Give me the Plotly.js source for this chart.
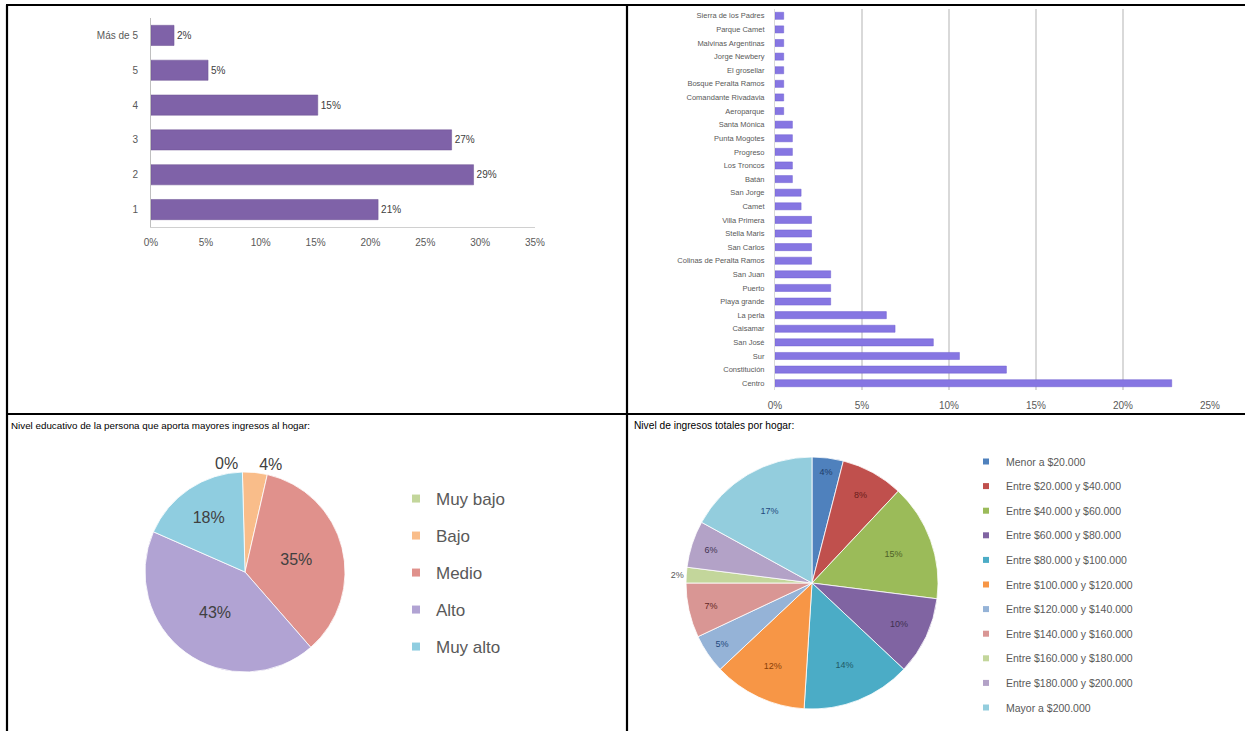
<!DOCTYPE html>
<html><head><meta charset="utf-8">
<script src="https://cdn.plot.ly/plotly-3.0.1.min.js"></script>
<style>html,body{margin:0;padding:0;background:#fff;}#chart{width:1245px;height:731px;}</style>
</head><body><div id="chart"></div>
<script>
// ---- Panel 1: members per household ----
const sizeCategories = ['1', '2', '3', '4', '5', 'Más de 5'];
const sizeValues = [20.7, 29.4, 27.4, 15.2, 5.2, 2.1];
const sizeLabels = ['21%', '29%', '27%', '15%', '5%', '2%'];

// ---- Panel 2: neighbourhood ----
const barrios = ['Centro', 'Constitución', 'Sur', 'San José', 'Caisamar', 'La perla', 'Playa grande', 'Puerto', 'San Juan',
  'Colinas de Peralta Ramos', 'San Carlos', 'Stella Maris', 'Villa Primera', 'Camet', 'San Jorge', 'Batán', 'Los Troncos',
  'Progreso', 'Punta Mogotes', 'Santa Mónica', 'Aeroparque', 'Comandante Rivadavia', 'Bosque Peralta Ramos', 'El grosellar',
  'Jorge Newbery', 'Malvinas Argentinas', 'Parque Camet', 'Sierra de los Padres'];
const barrioValues = [22.8, 13.3, 10.6, 9.1, 6.9, 6.4, 3.2, 3.2, 3.2, 2.1, 2.1, 2.1, 2.1, 1.5, 1.5, 1.0, 1.0, 1.0, 1.0, 1.0,
  0.5, 0.5, 0.5, 0.5, 0.5, 0.5, 0.5, 0.5];

// ---- Panel 3: education level ----
const eduTitle = 'Nivel educativo de la persona que aporta mayores ingresos al hogar:';
const eduLevels = ['Muy bajo', 'Bajo', 'Medio', 'Alto', 'Muy alto'];
const eduValues = [0, 4, 35, 43, 18];

// ---- Panel 4: household income ----
const incomeTitle = 'Nivel de ingresos totales por hogar:';
const incomeLevels = ['Menor a $20.000', 'Entre $20.000 y $40.000', 'Entre $40.000 y $60.000', 'Entre $60.000 y $80.000',
  'Entre $80.000 y $100.000', 'Entre $100.000 y $120.000', 'Entre $120.000 y $140.000', 'Entre $140.000 y $160.000',
  'Entre $160.000 y $180.000', 'Entre $180.000 y $200.000', 'Mayor a $200.000'];
const incomeValues = [4, 8, 15, 10, 14, 12, 5, 7, 2, 6, 17];

// ---- styles ----
const FONT = 'Liberation Sans, Arial, sans-serif';
const eduColors = ['#c3d69b', '#f9bd8a', '#e0918c', '#b1a3d3', '#8fcde0'];
const incomeColors = ['#4f81bd', '#c0504d', '#9bbb59', '#8064a2', '#4bacc6', '#f79646', '#95b3d7', '#d99694', '#c3d69b', '#b3a2c7', '#93cddd'];
const incomeTextColors = ['#1f3d6b', '#6b1d1b', '#4f6228', '#3f3151', '#215967', '#8a4006', '#1f497d', '#632523', '#595959', '#3f3151', '#1f497d'];

const W = 1245, H = 731;
const px = v => v / W;
const py = v => 1 - v / H;

const traces = [];

traces.push({
  type: 'bar', orientation: 'h', x: sizeValues, y: sizeCategories, xaxis: 'x', yaxis: 'y',
  text: sizeLabels, textposition: 'outside', cliponaxis: false, width: 0.58,
  textfont: {family: FONT, size: 10, color: '#404040'},
  marker: {color: '#7f62a8', line: {color: '#6c5292', width: 0.5}},
  showlegend: false, hoverinfo: 'x+y'
});

traces.push({
  type: 'bar', orientation: 'h', x: barrioValues, y: barrios, xaxis: 'x2', yaxis: 'y2', width: 0.52,
  marker: {color: '#8676e2', line: {color: '#6f5fd0', width: 0.5}},
  showlegend: false, hoverinfo: 'x+y'
});

traces.push({
  type: 'pie', values: eduValues, labels: eduLevels, sort: false, direction: 'clockwise', rotation: -1.5,
  domain: {x: [px(145), px(345)], y: [py(672), py(472)]},
  marker: {colors: eduColors, line: {color: '#ffffff', width: 0.8}},
  texttemplate: '%{percent:.0%}', textposition: ['outside', 'outside', 'inside', 'inside', 'inside'],
  insidetextorientation: 'horizontal',
  textfont: {family: FONT, size: 16, color: '#404040'},
  showlegend: false, hoverinfo: 'label+percent'
});

traces.push({
  type: 'pie', values: incomeValues, labels: incomeLevels, sort: false, direction: 'clockwise', rotation: 0,
  domain: {x: [px(686), px(938)], y: [py(709), py(457)]},
  marker: {colors: incomeColors, line: {color: '#ffffff', width: 0.8}},
  texttemplate: '%{percent:.0%}',
  textposition: incomeValues.map((v, i) => i === 8 ? 'outside' : 'inside'),
  insidetextorientation: 'horizontal',
  textfont: {family: FONT, size: 9, color: incomeTextColors},
  showlegend: false, hoverinfo: 'label+percent'
});

// legend entries (built from the category lists)
eduLevels.forEach((name, i) => traces.push({
  type: 'scatter', mode: 'markers', x: [null], y: [null], xaxis: 'x', yaxis: 'y', name: name,
  marker: {symbol: 'square', size: 8, color: eduColors[i]}, legend: 'legend', legendgroup: 'e' + i,
  showlegend: true, hoverinfo: 'skip'
}));
incomeLevels.forEach((name, i) => traces.push({
  type: 'scatter', mode: 'markers', x: [null], y: [null], xaxis: 'x', yaxis: 'y', name: name,
  marker: {symbol: 'square', size: 6, color: incomeColors[i]}, legend: 'legend2', legendgroup: 'i' + i,
  showlegend: true, hoverinfo: 'skip'
}));

const borderLine = (x0, y0, x1, y1) => ({type: 'line', xref: 'paper', yref: 'paper',
  x0: px(x0), y0: py(y0), x1: px(x1), y1: py(y1), line: {color: '#000', width: 2.2}});

const layout = {
  width: W, height: H, margin: {l: 0, r: 0, t: 0, b: 0},
  paper_bgcolor: '#ffffff', plot_bgcolor: 'rgba(0,0,0,0)',
  font: {family: FONT, color: '#595959'},
  xaxis: {domain: [px(151), px(535)], range: [0, 35], dtick: 5, ticksuffix: '%', showgrid: false, zeroline: false,
    showline: true, linecolor: '#d0d0d0', linewidth: 1, ticks: '', ticklabelstandoff: 6,
    tickfont: {size: 10, color: '#595959'}, anchor: 'y', fixedrange: true},
  yaxis: {domain: [py(227), py(18)], type: 'category', showline: true, linecolor: '#bfbfbf', linewidth: 1,
    showgrid: false, ticks: '', ticklabelstandoff: 10, tickfont: {size: 10, color: '#595959'}, anchor: 'x', fixedrange: true},
  xaxis2: {domain: [px(775), px(1210)], range: [0, 25], dtick: 5, ticksuffix: '%', showgrid: true, gridcolor: '#d9d9d9',
    gridwidth: 1.5, zeroline: false, showline: false, ticks: '', ticklabelstandoff: 8,
    tickfont: {size: 10, color: '#595959'}, anchor: 'y2', fixedrange: true},
  yaxis2: {domain: [py(390), py(9)], type: 'category', showline: true, linecolor: '#d9d9d9', showgrid: false, ticks: '',
    ticklabelstandoff: 8, tickfont: {size: 7.5, color: '#595959'}, anchor: 'x2', fixedrange: true},
  legend: {x: px(396), y: py(481), xanchor: 'left', yanchor: 'top', bgcolor: 'rgba(0,0,0,0)',
    font: {family: FONT, size: 17, color: '#595959'}, tracegroupgap: 11.9, traceorder: 'grouped'},
  legend2: {x: px(966), y: py(447), xanchor: 'left', yanchor: 'top', bgcolor: 'rgba(0,0,0,0)',
    font: {family: FONT, size: 10.5, color: '#595959'}, tracegroupgap: 5.6, traceorder: 'grouped'},
  annotations: [
    {text: eduTitle, xref: 'paper', yref: 'paper', x: px(9), y: py(418), xanchor: 'left', yanchor: 'top',
      showarrow: false, font: {family: FONT, size: 9.8, color: '#000'}},
    {text: incomeTitle, xref: 'paper', yref: 'paper', x: px(632), y: py(418), xanchor: 'left', yanchor: 'top',
      showarrow: false, font: {family: FONT, size: 10.2, color: '#000'}}
  ],
  shapes: [
    borderLine(6, 5, 1245, 5),
    borderLine(7, 5, 7, 731),
    borderLine(627, 5, 627, 731),
    borderLine(7, 414, 1245, 414)
  ]
};

Plotly.newPlot('chart', traces, layout, {displayModeBar: false, staticPlot: true});
</script>
</body></html>
